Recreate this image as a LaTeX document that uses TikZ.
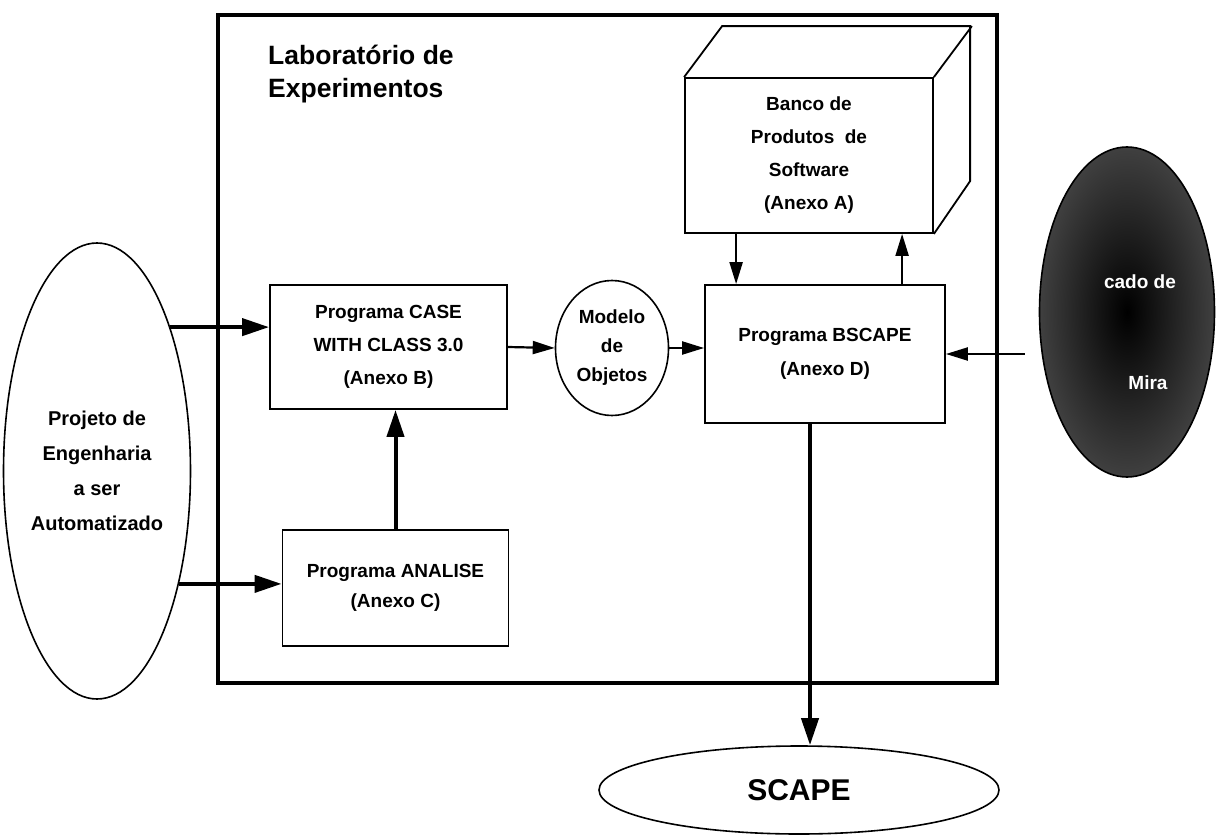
\documentclass[tikz,border=0pt]{standalone}
\usepackage{fontspec}
\setmainfont{Liberation Sans}
\usetikzlibrary{arrows.meta,shapes.geometric,calc}
\tikzset{
  labframe/.style={draw,line width=3.5pt,inner sep=0pt},
  procbox/.style={draw,line width=1.8pt,inner sep=0pt,align=center,font=\fontsize{19}{33}\selectfont\bfseries},
  termoval/.style={draw,ellipse,line width=1.6pt,inner sep=0pt,align=center,font=\fontsize{19}{29}\selectfont\bfseries},
  flowthin/.style={-{Triangle[length=22pt,width=13pt]},line width=2.2pt},
  flowthick/.style={-{Triangle[length=27pt,width=17pt]},line width=4pt}
}

\begin{document}
\begin{tikzpicture}[x=1pt,y=-1pt]
\useasboundingbox (0,0) rectangle (1216,835);
% laboratorio
\node[labframe,minimum width=779pt,minimum height=668pt] (lab) at (607.5,349) {};
\node[anchor=north west,align=left,inner sep=0pt,font=\fontsize{26.5}{33}\selectfont\bfseries] (labtitle) at (268,45) {Laborat\'orio de\\Experimentos};
% banco 3D
\node[procbox,minimum width=248pt,minimum height=155pt] (banco) at (809,155.5) {Banco de\\Produtos\ \ de\\Software\\(Anexo A)};
\draw[line width=1.8pt] (banco.north west) -- ++(38,-51) -- ++(248,0) -- ++(0,155) -- (banco.south east);
\draw[line width=1.8pt] (banco.north east) -- ++(38,-51);
% programas
\node[procbox,minimum width=237pt,minimum height=124pt] (case) at (388.5,347) {Programa CASE\\WITH CLASS 3.0\\(Anexo B)};
\node[procbox,minimum width=226pt,minimum height=116pt,font=\fontsize{19}{30}\selectfont\bfseries] (analise) at (395.5,588) {Programa ANALISE\\(Anexo C)};
\node[procbox,minimum width=240pt,minimum height=138pt,font=\fontsize{19}{34}\selectfont\bfseries] (bscape) at (825,354) {Programa BSCAPE\\(Anexo D)};
\node[termoval,minimum width=113pt,minimum height=135pt] (modelo) at (612,348) {Modelo\\de\\Objetos};
% elipses externas
\node[termoval,minimum width=166pt,minimum height=456pt,font=\fontsize{20}{35}\selectfont\bfseries] (projeto) at (97,471) {Projeto de\\Engenharia\\a ser\\Automatizado};
\node[termoval,minimum width=175pt,minimum height=330pt,inner color=black,outer color=black!75] (mira) at (1127,312) {};
\node[text=white,font=\fontsize{19}{23}\selectfont\bfseries] (miratop) at (1140,282) {cado de};
\node[text=white,font=\fontsize{19}{23}\selectfont\bfseries] (mirabot) at (1148,383) {Mira};
\node[termoval,minimum width=400pt,minimum height=88pt,font=\fontsize{30}{36}\selectfont\bfseries] (scape) at (799,790) {SCAPE};
% conexoes
\draw[flowthick] (projeto.63) -- (projeto.63 -| case.west);
\draw[flowthick] (projeto.-54) -- (projeto.-54 -| analise.west);
\draw[flowthick] (analise.north) -- (analise.north |- case.south);
\draw[flowthin] (case.east) -- (modelo.west);
\draw[flowthin] (modelo.east) -- (modelo.east -| bscape.west);
\coordinate (bdown) at ([xshift=52pt]banco.south west);
\coordinate (bup) at ([xshift=218pt]banco.south west);
\draw[flowthin] (bdown) -- (bdown |- bscape.north);
\draw[flowthin] (bup |- bscape.north) -- (bup);
\coordinate (mirain) at ([xshift=-14pt]mira.west);
\draw[flowthin] (mirain |- bscape.east) -- (bscape.east);
\coordinate (bout) at ([xshift=-15pt]bscape.south);
\draw[flowthick] (bout) -- (bout |- scape.north);
\end{tikzpicture}
\end{document}
